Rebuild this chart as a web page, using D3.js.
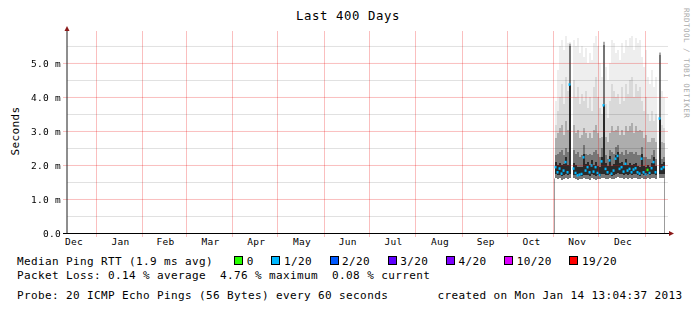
<!DOCTYPE html>
<html>
<head>
<meta charset="utf-8">
<script src="https://cdn.jsdelivr.net/npm/d3@7"></script>
<style>
  body { margin: 0; background: #fff; }
  svg text { font-family: "DejaVu Sans Mono", monospace; white-space: pre; }
</style>
</head>
<body>
<svg id="chart" width="697" height="313"></svg>
<script>
// graph window: last 400 days up to the creation time
const graphEnd = new Date(Date.UTC(2013, 0, 14, 13, 4, 37));
const graphStart = new Date(graphEnd.getTime() - 400 * 864e5);

// one sample column every 32 hours, starting 1 Nov 2012 (values in ms, null = no data)
const sampleStart = new Date(Date.UTC(2012, 10, 1, 12));
const sampleHours = 32;

const pingMin = [1.62,1.60,1.62,1.58,1.60,1.63,1.60,1.62,null,1.62,
  1.60,1.58,1.60,1.59,1.62,1.60,1.61,1.58,1.62,1.60,
  1.58,1.61,1.59,1.62,1.63,1.61,1.60,1.63,1.59,1.61,
  1.64,1.66,1.62,1.63,1.60,1.64,1.61,1.62,1.60,1.62,
  1.63,1.60,1.59,1.64,1.61,1.60,1.62,1.60,1.62,1.64,
  1.61,null,1.63,1.62,1.63];
const pingLow = [1.74,1.72,1.73,1.70,1.72,1.75,1.72,1.74,null,1.73,
  1.71,1.69,1.70,1.70,1.73,1.72,1.73,1.70,1.74,1.72,
  1.70,1.73,1.70,1.74,1.75,1.73,1.71,1.75,1.70,1.73,
  1.76,1.78,1.74,1.75,1.72,1.76,1.73,1.74,1.72,1.74,
  1.75,1.72,1.70,1.76,1.73,1.71,1.74,1.71,1.74,1.76,
  1.72,null,1.75,1.74,1.75];
const median = [1.95,1.80,1.91,1.76,1.85,2.10,1.80,4.38,null,1.91,
  1.78,1.71,1.73,1.75,2.24,1.85,1.95,1.80,2.00,1.82,
  1.95,1.78,1.72,2.12,3.77,1.90,1.80,2.15,1.76,1.85,
  2.20,2.28,1.90,1.95,1.82,2.05,1.85,1.90,1.80,1.88,
  1.92,1.80,1.76,2.20,1.80,1.74,1.87,1.78,1.92,2.10,
  1.80,null,3.38,1.90,1.95];
const pingCore = [2.10,2.00,2.08,2.00,2.05,2.25,2.02,4.38,null,2.08,
  2.00,1.95,1.95,1.96,2.35,2.04,2.10,2.00,2.15,2.02,
  2.10,1.98,1.95,2.25,3.77,2.06,1.98,2.28,1.98,2.04,
  2.32,2.40,2.06,2.10,2.00,2.18,2.02,2.06,2.00,2.04,
  2.08,1.98,1.96,2.34,1.98,1.96,2.02,1.96,2.08,2.24,
  1.98,null,3.38,2.05,2.10];
const pingMid = [2.30,2.35,2.40,2.45,2.30,2.50,2.40,5.50,null,2.45,
  2.35,2.40,2.25,2.30,2.60,2.35,2.30,2.35,2.30,2.40,
  2.45,2.35,2.25,2.50,5.55,2.30,2.20,2.45,2.40,2.35,
  2.55,2.60,2.35,2.40,2.30,2.45,2.35,2.40,2.40,2.35,
  2.40,2.30,2.30,2.55,2.25,2.25,2.20,2.20,2.30,2.45,
  2.20,null,5.25,2.20,2.25];
const pingHigh = [2.80,2.95,3.10,3.20,2.90,3.30,3.05,5.58,null,3.20,
  2.95,3.05,2.80,2.90,3.10,2.95,2.80,2.95,2.80,3.05,
  3.20,2.95,2.80,2.85,5.62,2.85,2.70,2.95,3.15,3.00,
  3.05,3.15,2.90,3.05,2.90,3.15,3.00,3.15,3.25,2.95,
  3.15,3.00,3.05,3.00,2.80,2.90,2.70,2.70,2.80,2.80,
  2.70,null,5.32,2.70,2.65];
const pingUpper = [3.20,3.60,4.00,4.40,3.80,4.60,4.20,5.60,null,4.50,
  4.00,4.30,3.80,4.10,3.90,4.20,3.70,4.00,3.60,4.30,
  4.60,4.00,3.70,3.50,5.64,3.80,3.40,3.90,4.40,4.20,
  4.00,4.10,3.80,4.30,3.90,4.40,4.10,4.50,4.60,4.00,
  4.40,4.20,4.30,3.90,3.60,4.00,3.50,3.30,3.60,3.30,
  3.50,null,5.34,3.20,3.10];
const pingMax = [3.90,4.80,5.50,5.70,5.40,5.80,5.60,5.62,null,5.70,
  5.50,5.75,5.30,5.50,5.20,5.45,5.00,5.30,5.10,5.60,
  5.80,5.50,5.00,4.60,5.65,4.90,4.50,5.00,5.70,5.60,
  5.30,5.40,5.10,5.60,5.30,5.70,5.50,5.75,5.80,5.40,
  5.75,5.60,5.70,5.20,4.90,5.40,4.60,4.40,4.80,4.30,
  4.60,null,5.35,4.20,4.00];
// lost pings out of 20 for each column
const lossPings = [1,1,1,1,1,1,1,1,null,1,
  1,1,1,1,1,1,1,1,1,1,
  1,1,1,1,1,1,1,1,1,1,
  1,1,1,1,1,1,1,1,1,1,
  1,1,1,1,1,1,0,1,1,1,
  1,null,1,1,1];

// loss colour legend
const lossLevels = [0, 1, 2, 3, 4, 10, 19];
const lossLabels = ['0', '1/20', '2/20', '3/20', '4/20', '10/20', '19/20'];
const lossColors = ['#26ff00', '#00b8ff', '#0059ff', '#5e00ff', '#7e00ff', '#dd00ff', '#ff0000'];

const yTicks = [0, 1, 2, 3, 4, 5];
const yMinorTicks = [0.5, 1.5, 2.5, 3.5, 4.5, 5.5];

const titleText = 'Last 400 Days';
const medianLegend = 'Median Ping RTT (1.9 ms avg)';
const lossLegend = 'Packet Loss: 0.14 % average  4.76 % maximum  0.08 % current';
const probeLegend = 'Probe: 20 ICMP Echo Pings (56 Bytes) every 60 seconds';
const createdLegend = 'created on Mon Jan 14 13:04:37 2013';

const svg = d3.select('#chart');

// scales
const x = d3.scaleUtc().domain([graphStart, graphEnd]).range([65.6, 665.6]);
const y = d3.scaleLinear().domain([0, 5.94]).range([233.5, 31.5]);

const cols = median.map((m, i) => ({
    i: i,
    t0: new Date(sampleStart.getTime() + i * sampleHours * 36e5),
    t1: new Date(sampleStart.getTime() + (i + 1) * sampleHours * 36e5)
})).filter(c => median[c.i] !== null);

// smoke bands, outer (light) first
const bands = [
    { lo: pingMin, hi: pingMax, color: '#eeeeee' },
    { lo: pingMin, hi: pingUpper, color: '#d9d9d9' },
    { lo: pingMin, hi: pingHigh, color: '#adadad' },
    { lo: pingMin, hi: pingMid, color: '#767676' },
    { lo: pingLow, hi: pingCore, color: '#2a2a2a' }
];

const dataG = svg.append('g').attr('shape-rendering', 'crispEdges');

bands.forEach(b => {
    dataG.append('g')
        .selectAll('rect')
        .data(cols)
        .enter()
        .append('rect')
        .attr('x', c => x(c.t0))
        .attr('width', c => x(c.t1) - x(c.t0))
        .attr('y', c => y(b.hi[c.i]))
        .attr('height', c => y(b.lo[c.i]) - y(b.hi[c.i]))
        .attr('fill', b.color);
});

// edge lines at the start and end of the data
const firstCol = cols[0];
const lastCol = cols[cols.length - 1];
[[firstCol.t0, pingMin[firstCol.i]], [lastCol.t1, pingMin[lastCol.i]]].forEach(([t, v]) => {
    const xx = Math.floor(x(t)) + 0.5;
    svg.append('line')
        .attr('x1', xx).attr('x2', xx)
        .attr('y1', y(0)).attr('y2', y(v))
        .attr('stroke', '#9c9c9c');
});

// median marks coloured by loss
function lossColor(l) {
    let k = 0;
    lossLevels.forEach((lv, j) => { if (l >= lv) k = j; });
    return lossColors[k];
}
svg.append('g')
    .selectAll('rect')
    .data(cols)
    .enter()
    .append('rect')
    .attr('x', c => x(c.t0))
    .attr('width', c => x(c.t1) - x(c.t0))
    .attr('y', c => y(median[c.i]) - 1.25)
    .attr('height', 2.5)
    .attr('fill', c => lossColor(lossPings[c.i]));

// grid drawn over the graph
const grid = svg.append('g');
grid.selectAll('.minor')
    .data(yMinorTicks)
    .enter()
    .append('line')
    .attr('x1', 67).attr('x2', 668)
    .attr('y1', d => y(d)).attr('y2', d => y(d))
    .attr('stroke', 'rgba(0,0,0,0.12)');
grid.selectAll('.major')
    .data(yTicks.filter(d => d > 0))
    .enter()
    .append('line')
    .attr('x1', 63).attr('x2', 668)
    .attr('y1', d => y(d)).attr('y2', d => y(d))
    .attr('stroke', 'rgba(235,0,0,0.25)');
const monthStarts = x.ticks(d3.utcMonth.every(1));
grid.selectAll('.month')
    .data(monthStarts)
    .enter()
    .append('line')
    .attr('x1', d => Math.floor(x(d)) + 0.5).attr('x2', d => Math.floor(x(d)) + 0.5)
    .attr('y1', 31).attr('y2', 237)
    .attr('stroke', 'rgba(235,0,0,0.25)');

// axes lines and arrows
svg.append('line')
    .attr('x1', 63).attr('x2', 669)
    .attr('y1', y(0)).attr('y2', y(0))
    .attr('stroke', '#000');
svg.append('line')
    .attr('x1', 67).attr('x2', 67)
    .attr('y1', y(0)).attr('y2', 28)
    .attr('stroke', '#1f1f1f');
svg.append('path')
    .attr('d', 'M669,231 L674,233.5 L669,236 Z')
    .attr('fill', '#8b1a1a');
svg.append('path')
    .attr('d', 'M64.5,31 L67,26 L69.5,31 Z')
    .attr('fill', '#8b1a1a');

// y tick labels
const yAxis = svg.append('g')
    .attr('transform', 'translate(61,0)')
    .style('filter', 'grayscale(100%)')
    .call(d3.axisLeft(y)
        .tickValues(yTicks)
        .tickSize(0)
        .tickPadding(0)
        .tickFormat(d => d === 0 ? '0.0' : d.toFixed(1) + ' m'));
yAxis.select('.domain').remove();

// month labels centred inside each month
const months = d3.utcMonths(new Date(Date.UTC(2011, 11, 1)), new Date(Date.UTC(2013, 0, 1)));
const monthMids = months.map(m => new Date((m.getTime() + d3.utcMonth.offset(m, 1).getTime()) / 2));
const xAxis = svg.append('g')
    .attr('transform', 'translate(0.5,238)')
    .call(d3.axisBottom(x)
        .tickValues(monthMids)
        .tickSize(0)
        .tickPadding(0)
        .tickFormat(d3.utcFormat('%b')));
xAxis.select('.domain').remove();

[yAxis, xAxis].forEach(a => {
    a.attr('font-family', null).attr('font-size', null);
    a.selectAll('text')
        .style('font-size', '9.5px')
        .style('letter-spacing', '0.28px')
        .style('fill', '#000');
});
xAxis.selectAll('text').attr('dy', '0.71em');

// title and side labels
svg.append('text')
    .attr('x', 348).attr('y', 19.5)
    .attr('text-anchor', 'middle')
    .style('font-size', '12.3px')
    .style('letter-spacing', '0.6px')
    .text(titleText);

svg.append('text')
    .attr('transform', 'translate(18.5,131) rotate(-90)')
    .attr('text-anchor', 'middle')
    .style('font-size', '11px')
    .style('letter-spacing', '0.38px')
    .text('Seconds');

svg.append('text')
    .attr('transform', 'translate(683.5,8) rotate(90)')
    .style('font-size', '7.5px')
    .style('letter-spacing', '0.5px')
    .attr('fill', '#ababab')
    .text('RRDTOOL / TOBI OETIKER');

// legend
const legendFont = g => g.style('font-size', '11px').style('letter-spacing', '0.38px');

svg.append('text').attr('x', 17).attr('y', 264.5).call(legendFont).text(medianLegend);

let lx = 246.7;
lossLabels.forEach((lab, j) => {
    svg.append('rect')
        .attr('x', Math.round(lx - 12.5) + 0.5).attr('y', 256.5)
        .attr('width', 8).attr('height', 8)
        .attr('fill', lossColors[j])
        .attr('stroke', '#000');
    svg.append('text').attr('x', lx).attr('y', 264.5).call(legendFont).text(lab);
    lx += lab.length * 7 + 30.2;
});

svg.append('text').attr('x', 17).attr('y', 278.5).call(legendFont).text(lossLegend);
svg.append('text').attr('x', 17).attr('y', 298.5).call(legendFont).text(probeLegend);
svg.append('text').attr('x', 682.5).attr('y', 298.5).attr('text-anchor', 'end')
    .call(legendFont).text(createdLegend);
</script>
</body>
</html>
